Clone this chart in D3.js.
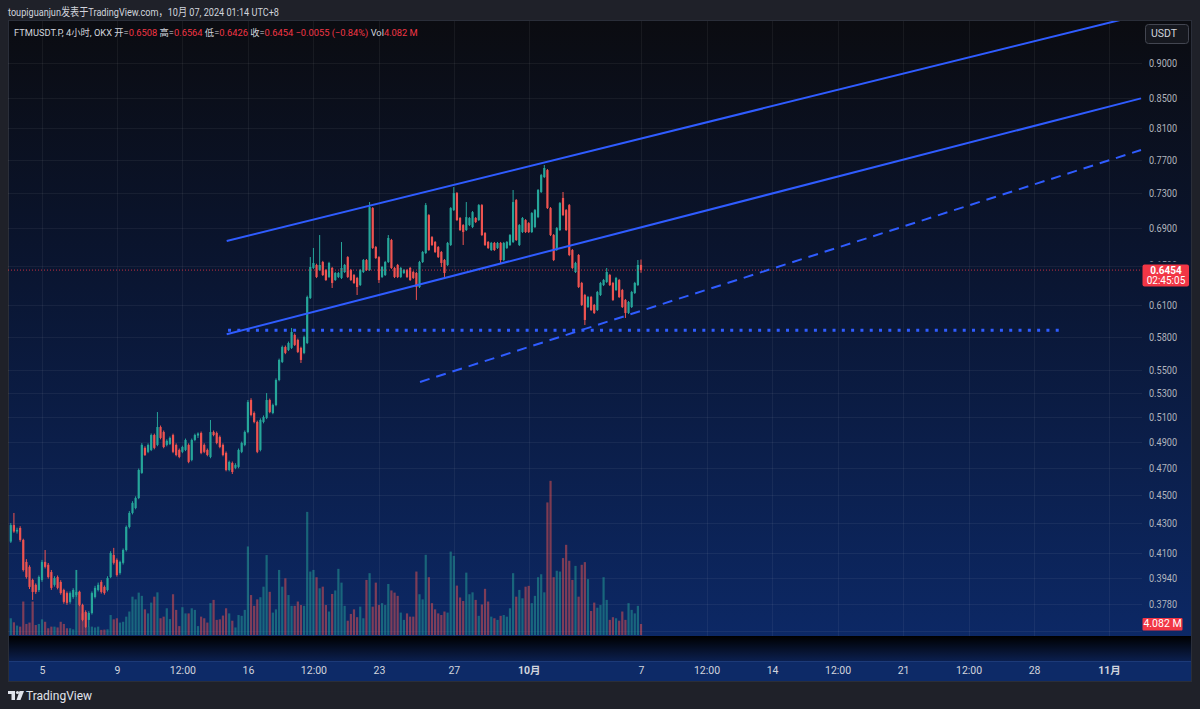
<!DOCTYPE html>
<html>
<head>
<meta charset="utf-8">
<script src="https://cdn.jsdelivr.net/npm/d3@7"></script>
<style>
  body { margin: 0; background: #1f2129; }
  svg { display: block; font-family: Roboto, "Noto Sans CJK SC", sans-serif; }
</style>
</head>
<body>
<div id="chart"></div>
<script>
// FTMUSDT.P 4h candles (OKX), wall clock in UTC+8
const firstBar = "2024-09-03T08:00";
const barHours = 4;

const opens = [
  0.4176,0.4288,0.4244,0.4268,0.4187,0.4042,0.4010,0.3927,0.3896,0.3864,
  0.3927,0.4042,0.4023,0.3977,0.3896,0.3945,0.3914,0.3864,0.3845,0.3791,
  0.3821,0.3833,0.3852,0.3773,0.3730,0.3683,0.3724,0.3821,0.3864,0.3914,
  0.3883,0.3864,0.3945,0.4087,0.4055,0.3971,0.4036,0.4120,0.4275,0.4372,
  0.4407,0.4478,0.4662,0.4853,0.4822,0.4837,0.4954,0.4876,0.5018,0.4978,
  0.4876,0.4884,0.4954,0.4876,0.4837,0.4822,0.4837,0.4876,0.4760,0.4915,
  0.4950,0.4970,0.4876,0.4837,0.4783,0.4978,0.4970,0.4938,0.4876,0.4814,
  0.4684,0.4737,0.4700,0.4707,0.4822,0.4876,0.4978,0.5240,0.5132,0.5059,
  0.4837,0.5059,0.5092,0.5240,0.5132,0.5198,0.5411,0.5570,0.5705,0.5678,
  0.5697,0.5816,0.5770,0.5697,0.5651,0.5742,0.6172,0.6476,0.6507,0.6455,
  0.6538,0.6455,0.6383,0.6476,0.6352,0.6383,0.6373,0.6434,0.6590,0.6455,
  0.6403,0.6373,0.6301,0.6434,0.6559,0.6455,0.7129,0.6697,0.6590,0.6383,
  0.6403,0.6538,0.6773,0.6476,0.6507,0.6383,0.6424,0.6455,0.6476,0.6434,
  0.6424,0.6281,0.6538,0.6633,0.7049,0.6805,0.6751,0.6697,0.6644,0.6559,
  0.6507,0.6719,0.7106,0.7303,0.7016,0.6937,0.6882,0.6937,0.6915,0.7016,
  0.6993,0.7163,0.6849,0.6751,0.6665,0.6741,0.6687,0.6741,0.6559,0.6687,
  0.6719,0.6751,0.7221,0.6719,0.6860,0.6993,0.6959,0.6860,0.6915,0.7026,
  0.7315,0.7492,0.7577,0.7129,0.6827,0.6665,0.6882,0.7245,0.7106,0.7163,
  0.6665,0.6434,0.6612,0.6322,0.6201,0.6083,0.6181,0.6103,0.6054,0.6201,
  0.6301,0.6332,0.6403,0.6322,0.6251,0.6352,0.6251,0.6152,0.6025,0.6083,
  0.6221,0.6301,0.6508
];
const highs = [
  0.4302,0.4372,0.4270,0.4280,0.4195,0.4060,0.4020,0.3935,0.3905,0.3955,
  0.4055,0.4120,0.4035,0.3990,0.3950,0.3955,0.3925,0.3872,0.3855,0.3855,
  0.3875,0.3990,0.3860,0.3780,0.3740,0.3735,0.3855,0.3890,0.3910,0.3925,
  0.3892,0.3950,0.4112,0.4134,0.4065,0.4050,0.4130,0.4285,0.4385,0.4455,
  0.4490,0.4695,0.4890,0.4865,0.4888,0.4966,0.4965,0.5140,0.5030,0.4990,
  0.4920,0.4942,0.4965,0.4888,0.4848,0.4870,0.4926,0.4888,0.4926,0.4965,
  0.4975,0.4982,0.4888,0.4848,0.5075,0.4990,0.4982,0.4950,0.4888,0.4825,
  0.4755,0.4748,0.4735,0.4848,0.4902,0.4990,0.5240,0.5255,0.5145,0.5070,
  0.5088,0.5112,0.5299,0.5252,0.5210,0.5425,0.5600,0.5718,0.5718,0.5755,
  0.5882,0.5830,0.5782,0.5708,0.5810,0.6195,0.6590,0.6687,0.6520,0.6827,
  0.6550,0.6466,0.6540,0.6487,0.6435,0.6435,0.6751,0.6518,0.6600,0.6466,
  0.6414,0.6384,0.6466,0.6570,0.6570,0.7198,0.7140,0.6708,0.6600,0.6497,
  0.6550,0.6827,0.6785,0.6487,0.6518,0.6487,0.6466,0.6466,0.6487,0.6445,
  0.6435,0.6550,0.6655,0.7186,0.7060,0.6816,0.6762,0.6708,0.6655,0.6570,
  0.6752,0.7140,0.7373,0.7315,0.7027,0.6948,0.7198,0.7027,0.7095,0.7027,
  0.7175,0.7175,0.6860,0.6762,0.6752,0.6752,0.6752,0.6752,0.6752,0.6762,
  0.6838,0.7338,0.7233,0.6948,0.7027,0.7004,0.6970,0.7083,0.7118,0.7350,
  0.7530,0.7638,0.7590,0.7140,0.6838,0.6915,0.7198,0.7315,0.7118,0.7175,
  0.6676,0.6540,0.6622,0.6333,0.6212,0.6192,0.6192,0.6113,0.6242,0.6333,
  0.6363,0.6476,0.6414,0.6333,0.6384,0.6363,0.6262,0.6162,0.6142,0.6242,
  0.6333,0.6559,0.6564
];
const lows = [
  0.4167,0.4235,0.4230,0.4175,0.3980,0.3935,0.3870,0.3803,0.3840,0.3852,
  0.3915,0.4000,0.3935,0.3865,0.3885,0.3868,0.3835,0.3780,0.3773,0.3780,
  0.3810,0.3822,0.3765,0.3675,0.3636,0.3642,0.3715,0.3812,0.3855,0.3842,
  0.3835,0.3855,0.3938,0.4025,0.3948,0.3960,0.4025,0.4110,0.4265,0.4362,
  0.4398,0.4470,0.4655,0.4790,0.4812,0.4828,0.4842,0.4866,0.4920,0.4850,
  0.4865,0.4875,0.4812,0.4788,0.4773,0.4812,0.4828,0.4735,0.4750,0.4905,
  0.4930,0.4804,0.4812,0.4788,0.4773,0.4944,0.4881,0.4850,0.4788,0.4674,
  0.4674,0.4654,0.4690,0.4697,0.4812,0.4866,0.4968,0.5105,0.5048,0.4812,
  0.4826,0.5048,0.5082,0.5130,0.5122,0.5188,0.5400,0.5560,0.5640,0.5668,
  0.5687,0.5714,0.5650,0.5561,0.5640,0.5732,0.6162,0.6466,0.6372,0.6445,
  0.6393,0.6342,0.6372,0.6271,0.6342,0.6372,0.6362,0.6424,0.6372,0.6342,
  0.6312,0.6201,0.6291,0.6424,0.6445,0.6445,0.6676,0.6570,0.6322,0.6372,
  0.6393,0.6528,0.6466,0.6372,0.6372,0.6372,0.6414,0.6372,0.6342,0.6362,
  0.6152,0.6271,0.6528,0.6622,0.6655,0.6708,0.6633,0.6580,0.6486,0.6383,
  0.6496,0.6708,0.7095,0.6982,0.6871,0.6719,0.6871,0.6926,0.6904,0.6960,
  0.6982,0.6816,0.6708,0.6676,0.6655,0.6655,0.6676,0.6528,0.6548,0.6676,
  0.6708,0.6740,0.6762,0.6708,0.6849,0.6849,0.6849,0.6849,0.6904,0.7015,
  0.7303,0.7480,0.7118,0.6816,0.6548,0.6655,0.6871,0.7038,0.6871,0.6600,
  0.6466,0.6424,0.6271,0.6093,0.5910,0.6073,0.6044,0.6015,0.6044,0.6191,
  0.6291,0.6322,0.6291,0.6142,0.6241,0.6171,0.6073,0.5977,0.6015,0.6073,
  0.6211,0.6291,0.6426
];
const closes = [
  0.4288,0.4244,0.4255,0.4187,0.3990,0.3945,0.3883,0.3852,0.3852,0.3945,
  0.4042,0.4010,0.3945,0.3877,0.3939,0.3877,0.3845,0.3791,0.3785,0.3845,
  0.3864,0.3852,0.3773,0.3683,0.3642,0.3724,0.3845,0.3877,0.3896,0.3852,
  0.3845,0.3939,0.4100,0.4036,0.3958,0.4042,0.4120,0.4275,0.4372,0.4443,
  0.4478,0.4684,0.4876,0.4798,0.4876,0.4954,0.4853,0.5018,0.4931,0.4860,
  0.4908,0.4931,0.4822,0.4798,0.4783,0.4860,0.4915,0.4745,0.4915,0.4954,
  0.4966,0.4814,0.4822,0.4798,0.4978,0.4954,0.4891,0.4860,0.4798,0.4684,
  0.4745,0.4669,0.4722,0.4837,0.4891,0.4978,0.5223,0.5116,0.5059,0.4822,
  0.5075,0.5099,0.5240,0.5140,0.5198,0.5411,0.5588,0.5705,0.5651,0.5742,
  0.5844,0.5724,0.5660,0.5588,0.5797,0.6181,0.6486,0.6528,0.6383,0.6507,
  0.6403,0.6352,0.6528,0.6322,0.6424,0.6424,0.6476,0.6507,0.6383,0.6352,
  0.6322,0.6281,0.6455,0.6559,0.6455,0.7140,0.6687,0.6580,0.6352,0.6486,
  0.6538,0.6795,0.6476,0.6383,0.6383,0.6476,0.6455,0.6383,0.6352,0.6373,
  0.6281,0.6538,0.6644,0.7163,0.6665,0.6719,0.6644,0.6590,0.6528,0.6424,
  0.6741,0.7129,0.7303,0.6993,0.6882,0.6860,0.7026,0.7016,0.7083,0.6971,
  0.7163,0.6827,0.6719,0.6687,0.6741,0.6665,0.6741,0.6559,0.6741,0.6751,
  0.6827,0.7198,0.6773,0.6937,0.7016,0.6860,0.6860,0.7072,0.7106,0.7338,
  0.7516,0.7602,0.7129,0.6827,0.6559,0.6904,0.7186,0.7049,0.6882,0.6612,
  0.6476,0.6528,0.6281,0.6103,0.5958,0.6181,0.6054,0.6025,0.6231,0.6322,
  0.6352,0.6434,0.6301,0.6152,0.6373,0.6181,0.6083,0.6025,0.6132,0.6231,
  0.6322,0.6507,0.6454
];
// volume, millions
const volumes = [
  6.2,4.7,3.5,3.1,12.4,4.1,4.6,12.4,3.7,4.1,
  5.8,4.9,2.5,3.1,3.1,2.8,4.9,4.1,2.5,2.5,
  2.1,24.1,16.1,8.0,3.1,3.1,3.1,2.8,3.1,1.9,
  2.0,2.1,7.4,5.8,6.2,4.6,4.9,6.8,8.7,14.2,
  13.2,15.7,14.5,9.5,8.0,12.0,14.2,15.8,6.2,6.8,
  9.9,5.9,15.1,9.3,3.3,10.3,8.0,8.0,9.9,9.3,
  3.3,6.8,6.2,4.6,11.8,13.0,5.6,5.8,7.2,9.9,
  8.0,5.3,2.8,7.4,7.1,9.3,32.8,14.8,10.8,13.2,
  14.0,17.9,29.6,16.0,8.3,9.5,24.1,17.9,21.0,14.8,
  10.8,10.8,12.4,11.1,10.8,45.6,23.5,24.1,21.4,17.3,
  17.9,11.1,8.7,15.2,16.5,24.5,19.4,10.8,5.3,7.8,
  9.5,6.6,10.5,6.2,20.4,22.9,10.5,19.4,11.1,11.8,
  11.1,18.9,16.5,15.7,14.5,8.3,5.6,8.0,6.8,6.8,
  23.5,15.1,13.2,29.7,21.4,11.8,9.5,8.0,7.4,8.7,
  8.3,30.9,29.3,18.3,13.9,12.6,23.1,15.1,15.8,13.0,
  7.1,11.3,17.1,12.4,6.8,6.2,5.6,7.1,7.4,6.8,
  9.9,22.9,14.2,16.7,13.6,17.9,18.2,11.8,14.5,21.4,
  22.5,15.8,49.1,57.1,21.4,23.8,23.5,28.5,33.4,27.5,
  20.4,25.6,14.2,26.0,27.0,20.7,8.9,12.0,10.1,11.1,
  21.4,13.0,5.6,6.6,6.2,5.3,8.7,5.6,11.8,9.3,
  8.0,10.8,4.082
];

const priceTicks = [0.362, 0.378, 0.394, 0.41, 0.43, 0.45, 0.47, 0.49, 0.51, 0.53,
  0.55, 0.58, 0.61, 0.65, 0.69, 0.73, 0.77, 0.81, 0.85, 0.90];
const timeTicks = ["2024-09-05T00:00", "2024-09-09T00:00", "2024-09-12T12:00", "2024-09-16T00:00",
  "2024-09-19T12:00", "2024-09-23T00:00", "2024-09-27T00:00", "2024-10-01T00:00",
  "2024-10-07T00:00", "2024-10-10T12:00", "2024-10-14T00:00", "2024-10-17T12:00",
  "2024-10-21T00:00", "2024-10-24T12:00", "2024-10-28T00:00", "2024-11-01T00:00"];
const timeTickLabels = ["5", "9", "12:00", "16", "12:00", "23", "27", "10月",
  "7", "12:00", "14", "12:00", "21", "12:00", "28", "11月"];

// drawings: [time, price] anchors
const channelTop = [["2024-09-14T20:47", 0.6762], ["2024-11-02T17:00", 0.9718]];
const channelMid = [["2024-09-14T20:47", 0.5823], ["2024-11-02T17:00", 0.85]];
const dashedTrend = [["2024-09-25T04:40", 0.5394], ["2024-11-02T17:00", 0.7824]];
const supportLevel = [["2024-09-14T22:30", 0.586], ["2024-10-29T11:45", 0.586]];

const lastPrice = 0.6454, lastVolume = 4.082, countdown = "02:45:05";
const changeText = "−0.0055 (−0.84%)";

var width = 1200, height = 709;
var paneL = 8, paneR = 1142, paneT = 21, paneB = 636, frameR = 1192;

var parse = d3.utcParse("%Y-%m-%dT%H:%M");
var t0 = parse(firstBar);
var bars = closes.map((c, i) => ({
  t: d3.utcHour.offset(t0, i * barHours),
  o: opens[i], h: highs[i], l: lows[i], c: c, v: volumes[i]
}));

var x = d3.scaleUtc()
  .domain([parse("2024-09-05T00:00"), parse("2024-11-01T00:00")])
  .range([42, 1109]);
var y = d3.scaleLog()
  .domain([0.3595, 0.9638])
  .range([635, 20]);
var yVol = d3.scaleLinear()
  .domain([0, 60])
  .range([635, 473]);

var upColor = "#26a69a", downColor = "#ef5350", lineBlue = "#2f5cff", tagRed = "#f23645";

var svg = d3.select("#chart").append("svg")
  .attr("width", width)
  .attr("height", height);

var defs = svg.append("defs");
var g1 = defs.append("linearGradient").attr("id", "paneGrad")
  .attr("x1", 0).attr("y1", 0).attr("x2", 0).attr("y2", 1);
g1.append("stop").attr("offset", "0%").attr("stop-color", "#0b0c11");
g1.append("stop").attr("offset", "40%").attr("stop-color", "#0a1530");
g1.append("stop").attr("offset", "100%").attr("stop-color", "#0c2865");
var g2 = defs.append("linearGradient").attr("id", "stripGrad")
  .attr("x1", 0).attr("y1", 0).attr("x2", 0).attr("y2", 1);
g2.append("stop").attr("offset", "0%").attr("stop-color", "#000000");
g2.append("stop").attr("offset", "100%").attr("stop-color", "#0b1f4e");
defs.append("clipPath").attr("id", "paneClip")
  .append("rect").attr("x", paneL).attr("y", paneT)
  .attr("width", paneR - paneL).attr("height", paneB - paneT);

// frame and backgrounds
svg.append("rect").attr("width", width).attr("height", height).attr("fill", "#1f2129");
svg.append("rect").attr("x", paneL).attr("y", paneT)
  .attr("width", frameR - paneL).attr("height", paneB - paneT)
  .attr("fill", "url(#paneGrad)");
svg.append("rect").attr("x", paneL).attr("y", paneB)
  .attr("width", frameR - paneL).attr("height", 25)
  .attr("fill", "url(#stripGrad)");
svg.append("rect").attr("x", paneL).attr("y", 661)
  .attr("width", frameR - paneL).attr("height", 21)
  .attr("fill", "#0d2a67");
svg.append("line").attr("x1", paneL).attr("x2", frameR).attr("y1", 661.5).attr("y2", 661.5)
  .attr("stroke", "#1c3a78");
svg.append("rect").attr("x", paneL + 0.5).attr("y", paneT - 0.5)
  .attr("width", frameR - paneL - 1).attr("height", 682 - paneT)
  .attr("fill", "none").attr("stroke", "#2a2e39");

// header
svg.append("text")
  .attr("x", 8).attr("y", 16)
  .attr("font-size", 11.5).attr("fill", "#d1d4dc")
  .attr("textLength", 271).attr("lengthAdjust", "spacingAndGlyphs")
  .text("toupiguanjun发表于TradingView.com，10月 07, 2024 01:14 UTC+8");

// grid
var grid = svg.append("g").attr("stroke", "rgba(255,255,255,0.055)");
grid.selectAll(".hgrid").data(priceTicks).enter().append("line")
  .attr("x1", paneL).attr("x2", paneR)
  .attr("y1", d => Math.round(y(d)) + 0.5).attr("y2", d => Math.round(y(d)) + 0.5);
grid.selectAll(".vgrid").data(timeTicks).enter().append("line")
  .attr("x1", d => Math.round(x(parse(d))) + 0.5).attr("x2", d => Math.round(x(parse(d))) + 0.5)
  .attr("y1", paneT).attr("y2", paneB);

var plot = svg.append("g").attr("clip-path", "url(#paneClip)");

// volume
plot.selectAll(".vol").data(bars).enter().append("rect")
  .attr("x", d => x(d.t) - 1.1)
  .attr("width", 2.2)
  .attr("y", d => yVol(d.v))
  .attr("height", d => yVol(0) - yVol(d.v))
  .attr("fill", d => d.c >= d.o ? upColor : downColor)
  .attr("fill-opacity", 0.5);

// candles
var candle = plot.selectAll(".candle").data(bars).enter().append("g")
  .attr("fill", d => d.c >= d.o ? upColor : downColor)
  .attr("stroke", d => d.c >= d.o ? upColor : downColor);
candle.append("line")
  .attr("x1", d => x(d.t)).attr("x2", d => x(d.t))
  .attr("y1", d => y(d.h)).attr("y2", d => y(d.l))
  .attr("stroke-width", 1);
candle.append("rect")
  .attr("stroke", "none")
  .attr("x", d => x(d.t) - 1.1)
  .attr("width", 2.2)
  .attr("y", d => y(Math.max(d.o, d.c)))
  .attr("height", d => Math.max(1, Math.abs(y(d.o) - y(d.c))));

// last price line
plot.append("line")
  .attr("x1", paneL).attr("x2", paneR)
  .attr("y1", y(lastPrice)).attr("y2", y(lastPrice))
  .attr("stroke", tagRed).attr("stroke-width", 1)
  .attr("stroke-dasharray", "1,2").attr("stroke-opacity", 0.8);

// drawings
function seg(a) {
  return { x1: x(parse(a[0][0])), y1: y(a[0][1]), x2: x(parse(a[1][0])), y2: y(a[1][1]) };
}
function drawLine(a, w, dash) {
  var s = seg(a);
  var l = plot.append("line")
    .attr("x1", s.x1).attr("y1", s.y1).attr("x2", s.x2).attr("y2", s.y2)
    .attr("stroke", lineBlue).attr("stroke-width", w);
  if (dash) l.attr("stroke-dasharray", dash);
}
drawLine(channelTop, 2);
drawLine(channelMid, 2);
drawLine(dashedTrend, 2, "10,7");
drawLine(supportLevel, 3, "3,6.3");

// price axis (labels hidden behind the price / volume tags drawn separately)
var tagged = [0.65, 0.362];
var yAxis = svg.append("g")
  .attr("transform", `translate(${paneR},0)`)
  .call(d3.axisRight(y).tickValues(priceTicks.filter(d => tagged.indexOf(d) < 0))
    .tickFormat(d3.format(".4f")).tickSize(0).tickPadding(7));
yAxis.select(".domain").remove();
yAxis.selectAll("text")
  .attr("font-size", 10.5).attr("fill", "#b2b5be")
  .attr("textLength", 28).attr("lengthAdjust", "spacingAndGlyphs")
  .attr("font-family", "Roboto, sans-serif");

// partly covered labels, clipped just outside the tags
[[0.65, 0, y(0.65) - 4], [0.362, y(0.362) + 6.5, 712]].forEach(function(d) {
  var id = "tagClip" + String(d[0]).replace(".", "");
  defs.append("clipPath").attr("id", id).append("rect")
    .attr("x", 1142).attr("y", d[1]).attr("width", 58).attr("height", Math.max(0, d[2] - d[1]));
  svg.append("text")
    .attr("clip-path", `url(#${id})`)
    .attr("x", paneR + 7).attr("y", y(d[0])).attr("dy", "0.32em")
    .attr("font-size", 10.5).attr("fill", "#b2b5be")
    .attr("textLength", 28).attr("lengthAdjust", "spacingAndGlyphs")
    .text(d3.format(".4f")(d[0]));
});

// time axis
var xAxis = svg.append("g")
  .attr("transform", "translate(0,662)")
  .call(d3.axisBottom(x).tickValues(timeTicks.map(parse))
    .tickFormat((d, i) => timeTickLabels[i]).tickSize(0).tickPadding(5));
xAxis.select(".domain").remove();
xAxis.selectAll("text")
  .attr("font-size", 10.5).attr("fill", "#d1d4dc")
  .attr("font-family", "Roboto, 'Noto Sans CJK SC', sans-serif")
  .attr("font-weight", (d, i) => timeTickLabels[i].indexOf("月") >= 0 ? "bold" : null);

// last price label
var py = y(lastPrice);
svg.append("rect").attr("x", 1142.5).attr("y", py - 5.5)
  .attr("width", 46.5).attr("height", 22).attr("rx", 2).attr("fill", tagRed);
svg.append("text").attr("x", 1166).attr("y", py + 4)
  .attr("text-anchor", "middle")
  .attr("font-size", 10).attr("font-weight", "bold").attr("fill", "#ffffff")
  .text(d3.format(".4f")(lastPrice));
svg.append("text").attr("x", 1166).attr("y", py + 14)
  .attr("text-anchor", "middle")
  .attr("font-size", 10).attr("fill", "#ffffff")
  .text(countdown);

// last volume label
var vy = yVol(lastVolume);
svg.append("rect").attr("x", 1142.5).attr("y", vy - 6)
  .attr("width", 40).attr("height", 12.5).attr("rx", 1).attr("fill", tagRed);
svg.append("text").attr("x", 1162.5).attr("y", vy + 0.5)
  .attr("text-anchor", "middle").attr("dominant-baseline", "middle")
  .attr("font-size", 10.5).attr("fill", "#ffffff")
  .text(d3.format(".3f")(lastVolume) + " M");

// currency button
svg.append("rect").attr("x", 1145.5).attr("y", 24.5)
  .attr("width", 43).attr("height", 19).attr("rx", 3)
  .attr("fill", "#16181f").attr("stroke", "#434651");
svg.append("text").attr("x", 1164).attr("y", 34.5)
  .attr("text-anchor", "middle").attr("dominant-baseline", "middle")
  .attr("font-size", 10.5).attr("fill", "#d1d4dc")
  .text("USDT");

// legend: one text run, font size fitted to the reference width
var last = bars[bars.length - 1];
var f4 = d3.format(".4f");
var legendParts = [
  ["FTMUSDT.P, 4小时, OKX  ", "#d1d4dc"],
  ["开=", "#d1d4dc"], [f4(last.o), tagRed],
  [" 高=", "#d1d4dc"], [f4(last.h), tagRed],
  [" 低=", "#d1d4dc"], [f4(last.l), tagRed],
  [" 收=", "#d1d4dc"], [f4(last.c), tagRed],
  [" " + changeText, tagRed],
  [" Vol", "#d1d4dc"], [d3.format(".3f")(last.v) + " M", tagRed]
];
var legend = svg.append("text")
  .attr("x", 14).attr("y", 36)
  .attr("font-size", 10.5)
  .attr("font-family", "'Liberation Sans Narrow', Roboto, 'Noto Sans CJK SC', sans-serif");
legendParts.forEach(p => legend.append("tspan").attr("fill", p[1]).text(p[0]));
var natural = legend.node().getComputedTextLength();
if (natural > 0) legend.attr("font-size", Math.min(11.5, 10.5 * 404 / natural));

// footer logo
var logo = svg.append("g").attr("fill", "#e0e3eb");
logo.append("rect").attr("x", 8).attr("y", 691).attr("width", 7).attr("height", 3);
logo.append("rect").attr("x", 11.5).attr("y", 691).attr("width", 3.5).attr("height", 9);
logo.append("circle").attr("cx", 17.5).attr("cy", 692.5).attr("r", 1.6);
logo.append("path").attr("d", "M19.5,691 L24,691 L20.5,700 L16.5,700 Z");
svg.append("text").attr("x", 26).attr("y", 700)
  .attr("font-size", 12).attr("fill", "#e0e3eb")
  .text("TradingView");
</script>
</body>
</html>
